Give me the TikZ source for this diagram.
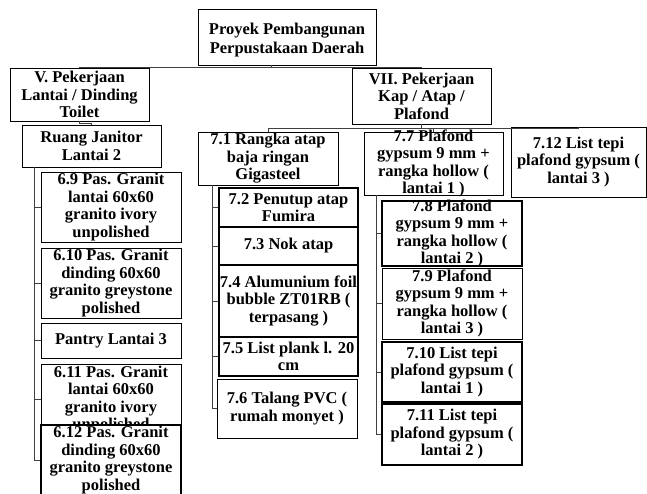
\documentclass[tikz,border=0pt]{standalone}
\usepackage{fontspec}
\setmainfont{Liberation Serif}
\tikzset{
  wbox/.style={draw=black, fill=white, line width=0.8pt, inner sep=0pt},
  hbox/.style={draw=black, fill=white, line width=1.3pt, inner sep=0pt},
  txt/.style={font=\fontsize{16.5}{17.5}\selectfont\bfseries, align=center, inner sep=0pt},
  conn/.style={draw=black!75, line width=0.7pt}
}
\newcommand\wbs[7]{%
  \node[#6, minimum width={(#4-#2)*1pt}, minimum height={(#5-#3)*1pt}] (#1) at ({(#2+#4)/2},{(#3+#5)/2}) {};
  \node[txt] (#1t) at (#1.center) {#7};}
\begin{document}
\begin{tikzpicture}[x=1pt,y=-1pt]
\fill[white] (0,0) rectangle (647,494);
\useasboundingbox (0,0) rectangle (647,494);
\node[wbox, minimum width=178pt, minimum height=56pt] (root) at (287,37) {};
\node[txt, font=\fontsize{16.5}{18.5}\selectfont\bfseries] (roott) at ([yshift=-3pt]root.center) {Proyek Pembangunan\\Perpustakaan Daerah};
\wbs{v}{10}{68}{149}{121}{wbox}{V. Pekerjaan\\Lantai / Dinding\\Toilet}
\wbs{vii}{352}{68}{491}{124}{wbox}{VII. Pekerjaan\\Kap / Atap /\\Plafond}
\draw[conn] ([xshift=-16pt]root.south) -- ++(0,2) coordinate (rj) -| (v.north);
\draw[conn] (rj) -| (vii.north);
\wbs{ruang}{22}{125}{161}{167}{wbox}{Ruang Janitor\\Lantai 2}
\draw[conn] (v.south) -- ++(0,1.5) -| (ruang.north);
% column under Ruang Janitor
\wbs{n69}{41}{172}{181}{242}{wbox}{6.9 Pas. Granit\\lantai 60x60\\granito ivory\\unpolished}
\wbs{n610}{41}{248}{181}{318}{wbox}{6.10 Pas. Granit\\dinding 60x60\\granito greystone\\polished}
\wbs{pantry}{41}{323}{181}{358}{wbox}{Pantry Lantai 3}
\wbs{n611}{41}{364}{181}{435}{wbox}{6.11 Pas. Granit\\lantai 60x60\\granito ivory\\unpolished}
\wbs{n612}{41}{425}{181}{495}{hbox}{6.12 Pas. Granit\\dinding 60x60\\granito greystone\\polished}
\coordinate (rs) at ([xshift=13pt]ruang.south west);
\draw[conn] (rs) -- (rs |- n612.west) -- (n612.west);
\foreach \c in {n69,n610,pantry,n611}{\draw[conn] (rs |- \c.west) -- (\c.west);}
% VII children
\wbs{n71}{198}{132}{338}{185}{wbox}{7.1 Rangka atap\\baja ringan\\Gigasteel}
\wbs{n77}{364}{132}{503}{195}{wbox}{7.7 Plafond\\gypsum 9 mm +\\rangka hollow (\\lantai 1 )}
\wbs{n712}{511}{127}{646}{197}{wbox}{7.12 List tepi\\plafond gypsum (\\lantai 3 )}
\draw[conn] (vii.south) -- ++(0,4) coordinate (vj) -| (n71.north);
\draw[conn] (vj) -| (n712.north);
\draw[conn] (vj) -| (n77.north);
% under 7.1
\wbs{n72}{219}{188}{358}{227}{hbox}{7.2 Penutup atap\\Fumira}
\wbs{n73}{219}{227}{358}{265}{hbox}{7.3 Nok atap}
\wbs{n74}{219}{265}{358}{337}{hbox}{7.4 Alumunium foil\\bubble ZT01RB (\\terpasang )}
\wbs{n75}{219}{337}{358}{376}{hbox}{7.5 List plank l. 20\\cm}
\wbs{n76}{217}{379}{357}{438}{wbox}{7.6 Talang PVC (\\rumah monyet )}
\coordinate (s71) at ([xshift=15pt]n71.south west);
\draw[conn] (s71) -- (s71 |- n76.west) -- (n76.west);
\foreach \c in {n72,n73,n74,n75}{\draw[conn] (s71 |- \c.west) -- (\c.west);}
% under 7.7
\wbs{n78}{382}{201}{522}{266}{hbox}{7.8 Plafond\\gypsum 9 mm +\\rangka hollow (\\lantai 2 )}
\wbs{n79}{382}{268}{522}{339}{wbox}{7.9 Plafond\\gypsum 9 mm +\\rangka hollow (\\lantai 3 )}
\wbs{n710}{382}{342}{522}{402}{hbox}{7.10 List tepi\\plafond gypsum (\\lantai 1 )}
\wbs{n711}{382}{404}{522}{465}{hbox}{7.11 List tepi\\plafond gypsum (\\lantai 2 )}
\coordinate (s77) at ([xshift=13pt]n77.south west);
\draw[conn] (s77) -- (s77 |- n711.west) -- (n711.west);
\foreach \c in {n78,n79,n710}{\draw[conn] (s77 |- \c.west) -- (\c.west);}
\end{tikzpicture}
\end{document}
